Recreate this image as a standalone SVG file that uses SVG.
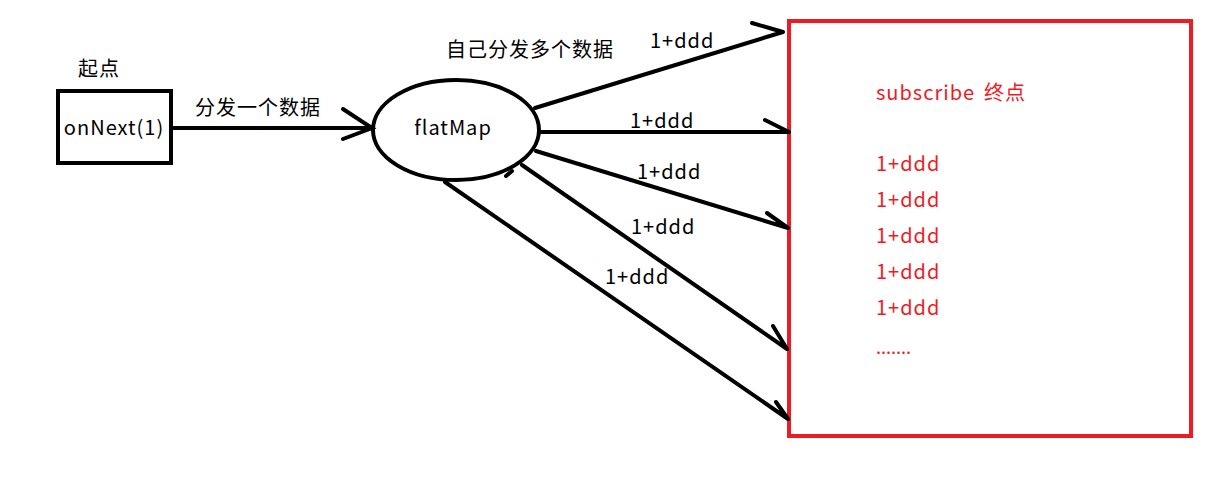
<svg xmlns="http://www.w3.org/2000/svg" width="1232" height="483" viewBox="0 0 1232 483">
<style>
text{font-family:"Noto Sans CJK SC","Noto Sans",sans-serif;font-size:20px;letter-spacing:1px;fill:#000}
.r{fill:#ED1C24}
.ln{stroke:#000;stroke-width:4;fill:none;stroke-linecap:round}
</style>
<rect width="1232" height="483" fill="#fff"/>
<g id="start">
<text x="78" y="76">起点</text>
<rect x="58" y="91" width="113" height="72" fill="none" stroke="#000" stroke-width="4"/>
<text x="114" y="135" text-anchor="middle">onNext(1)</text>
</g>
<g id="flatmap">
<ellipse cx="456" cy="130" rx="83" ry="50" fill="none" stroke="#000" stroke-width="4"/>
<text x="453" y="135" text-anchor="middle">flatMap</text>
<path class="ln" d="M506 176 L512 171" stroke-width="2"/>
</g>
<g id="subscriber">
<rect x="789" y="21" width="402" height="415" fill="none" stroke="#ED1C24" stroke-width="4"/>
<text class="r" x="876" y="100">subscribe</text>
<text class="r" x="984" y="100">终点</text>
<text class="r" x="876" y="171">1+ddd</text>
<text class="r" x="876" y="207">1+ddd</text>
<text class="r" x="876" y="243">1+ddd</text>
<text class="r" x="876" y="279">1+ddd</text>
<text class="r" x="876" y="315">1+ddd</text>
<text class="r" x="876" y="354" style="font-size:18px;letter-spacing:0">.......</text>
</g>
<g id="connectors">
<path class="ln" d="M171 128 L372 128 M343 109 L372 128 L343 139"/>
<text x="195" y="115">分发一个数据</text>
<text x="446" y="57">自己分发多个数据</text>
<path class="ln" d="M535 108 L783 32 M752 23 L783 32"/>
<text x="650" y="48">1+ddd</text>
<path class="ln" d="M541 132 L789 132 M765 120 L789 132"/>
<text x="630" y="128">1+ddd</text>
<path class="ln" d="M536 151 L788 228 M767 213 L788 228"/>
<text x="637" y="179">1+ddd</text>
<path class="ln" d="M522 165 L787 349 M773 326 L787 349"/>
<text x="631" y="234">1+ddd</text>
<path class="ln" d="M445 182 L788 419 M776 402 L788 419"/>
<text x="605" y="284">1+ddd</text>
</g>
</svg>
